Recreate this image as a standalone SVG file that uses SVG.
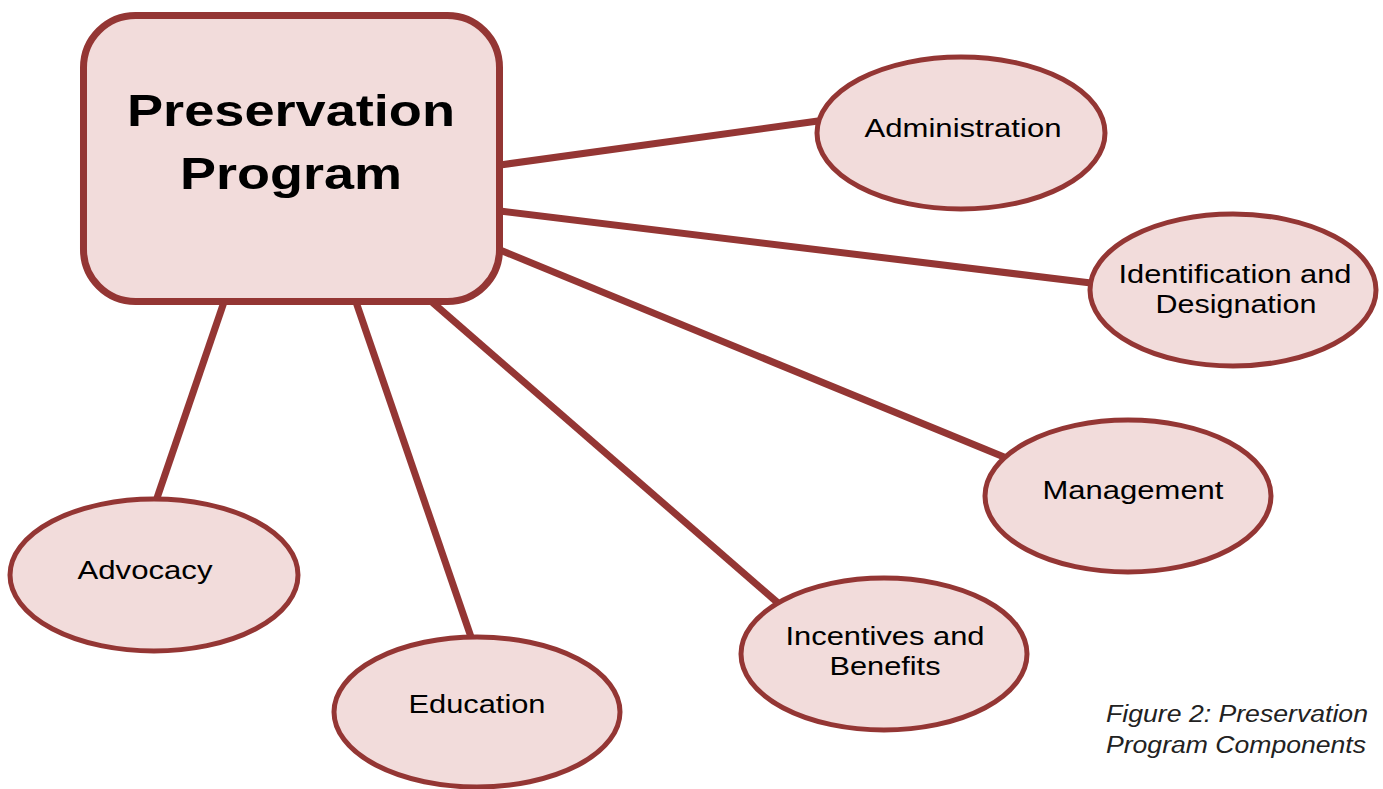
<svg xmlns="http://www.w3.org/2000/svg" width="1383" height="789" viewBox="0 0 1383 789">
<style>
.c{stroke:#943634;stroke-width:7;fill:none;stroke-linecap:butt}
.n{fill:#f2dcdb;stroke:#943634;stroke-width:5}
.t{font-family:"Liberation Sans",Arial,sans-serif;font-size:25px;fill:#000;text-anchor:middle}
.h{font-family:"Liberation Sans",Arial,sans-serif;font-size:45px;font-weight:bold;fill:#000;text-anchor:middle}
.cap{font-family:"Liberation Sans",Arial,sans-serif;font-size:23px;font-style:italic;fill:#222}
</style>
<rect width="1383" height="789" fill="#fff"/>
<g id="connectors">
<line class="c" x1="500" y1="165" x2="818" y2="121"/>
<line class="c" x1="500" y1="211" x2="1091" y2="283"/>
<line class="c" x1="500" y1="250" x2="1004" y2="457"/>
<line class="c" x1="432" y1="302" x2="778" y2="603"/>
<line class="c" x1="356" y1="302" x2="471" y2="637"/>
<line class="c" x1="224" y1="302" x2="157" y2="498"/>
</g>
<g id="preservation-program">
<rect x="83.5" y="15.5" width="416" height="286" rx="52" ry="52" fill="#f2dcdb" stroke="#943634" stroke-width="7"/>
<text class="h" x="291" y="126" textLength="328" lengthAdjust="spacingAndGlyphs">Preservation</text>
<text class="h" x="291" y="189" textLength="222" lengthAdjust="spacingAndGlyphs">Program</text>
</g>
<g id="administration">
<ellipse class="n" cx="961" cy="133" rx="144" ry="76"/>
<text class="t" x="963" y="137" textLength="197" lengthAdjust="spacingAndGlyphs">Administration</text>
</g>
<g id="identification">
<ellipse class="n" cx="1233" cy="290" rx="143" ry="76"/>
<text class="t" x="1235" y="283" textLength="233" lengthAdjust="spacingAndGlyphs">Identification and</text>
<text class="t" x="1236" y="313" textLength="161" lengthAdjust="spacingAndGlyphs">Designation</text>
</g>
<g id="management">
<ellipse class="n" cx="1128" cy="496" rx="143" ry="76"/>
<text class="t" x="1133" y="499" textLength="181" lengthAdjust="spacingAndGlyphs">Management</text>
</g>
<g id="incentives">
<ellipse class="n" cx="884" cy="654" rx="143" ry="76"/>
<text class="t" x="885" y="645" textLength="199" lengthAdjust="spacingAndGlyphs">Incentives and</text>
<text class="t" x="885" y="675" textLength="111" lengthAdjust="spacingAndGlyphs">Benefits</text>
</g>
<g id="education">
<ellipse class="n" cx="477" cy="712" rx="143" ry="75"/>
<text class="t" x="477" y="713" textLength="137" lengthAdjust="spacingAndGlyphs">Education</text>
</g>
<g id="advocacy">
<ellipse class="n" cx="154" cy="575" rx="144" ry="76"/>
<text class="t" x="145" y="579" textLength="135" lengthAdjust="spacingAndGlyphs">Advocacy</text>
</g>
<g id="caption">
<text class="cap" x="1106" y="722" textLength="262" lengthAdjust="spacingAndGlyphs">Figure 2: Preservation</text>
<text class="cap" x="1106" y="753" textLength="260" lengthAdjust="spacingAndGlyphs">Program Components</text>
</g>
</svg>
